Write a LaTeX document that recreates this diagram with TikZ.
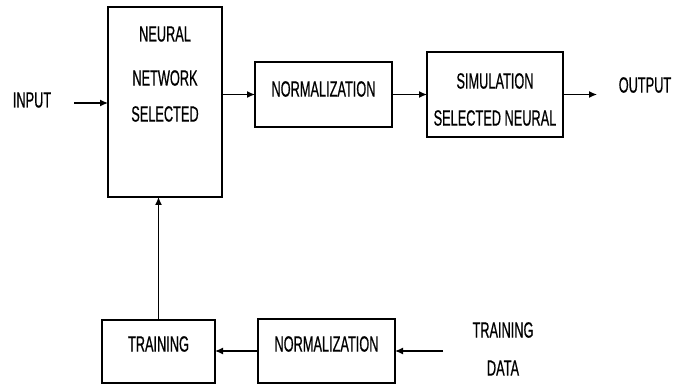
\documentclass[tikz,border=0pt]{standalone}
\usepackage{fontspec}
\setmainfont[FakeStretch=0.58,FakeBold=0.6]{Liberation Sans}
\usetikzlibrary{arrows.meta}
\begin{document}
\begin{tikzpicture}[x=1pt,y=-1pt,
  box/.style={draw, line width=1.2pt, inner sep=0pt, outer sep=0pt},
  lbl/.style={inner sep=0pt, font=\fontsize{22}{24}\selectfont},
  arr/.style={line width=1.2pt, -{Latex[length=8pt,width=7pt]}},
  ln/.style={line width=1.2pt}]
\useasboundingbox (0,0) rectangle (689,385);
% boxes
\node[box, minimum width=114pt, minimum height=190pt] (nn) at (165,102) {};
\node[box, minimum width=137pt, minimum height=65pt] (norma) at (323.5,94.5) {};
\node[box, minimum width=136pt, minimum height=85pt] (sim) at (495,94.5) {};
\node[box, minimum width=113pt, minimum height=63pt] (train) at (158.5,351.5) {};
\node[box, minimum width=137pt, minimum height=64pt] (normb) at (326.5,351) {};
% texts
\node[lbl] (t1) at (165,34) {NEURAL};
\node[lbl] (t2) at (165,78) {NETWORK};
\node[lbl] (t3) at (165,114) {SELECTED};
\node[lbl] (t4) at (323.5,89) {NORMALIZATION};
\node[lbl] (t5) at (495,81) {SIMULATION};
\node[lbl] (t6) at (495,118) {SELECTED NEURAL};
\node[lbl] (t7) at (158.5,344) {TRAINING};
\node[lbl] (t8) at (326.5,344) {NORMALIZATION};
\node[lbl] (inp) at (32,100) {INPUT};
\node[lbl] (outp) at (645,85) {OUTPUT};
\node[lbl] (td1) at (503,330) {TRAINING};
\node[lbl] (td2) at (503,368) {DATA};
% connectors
\coordinate (ina) at (74,103);
\coordinate (outa) at (597,94.5);
\coordinate (tda) at (443,351);
\draw[arr] (ina) -- (ina -| nn.west);
\draw[arr] (norma.west -| nn.east) -- (norma.west);
\draw[arr] (norma.east) -- (sim.west);
\draw[arr] (sim.east) -- (outa);
\draw[arr] (train.north) -- (train.north |- nn.south);
\draw[arr] (normb.west) -- (normb.west -| train.east);
\draw[arr] (tda) -- (normb.east);
\end{tikzpicture}
\end{document}
